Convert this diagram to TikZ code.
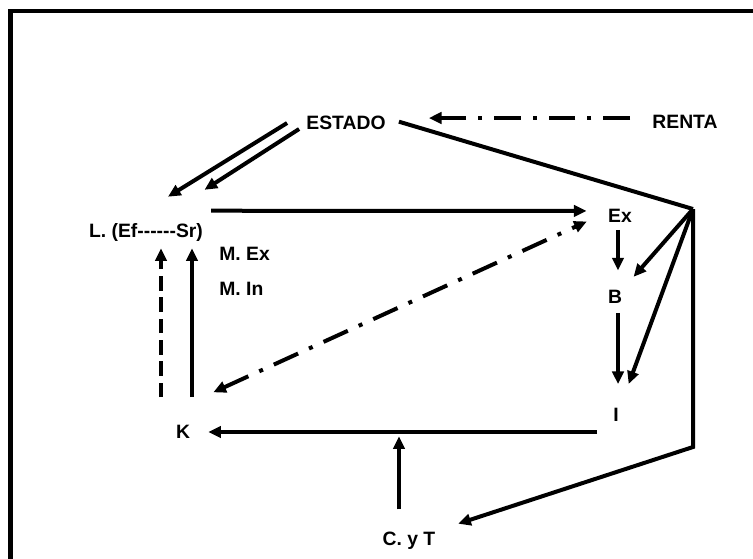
\documentclass[tikz,border=0pt]{standalone}
\usepackage{fontspec}
\setmainfont{Liberation Sans}
\usetikzlibrary{positioning,arrows.meta}

\begin{document}
\begin{tikzpicture}[
    x=0.75pt,y=-0.75pt,
    txt/.style={inner sep=1pt,font=\fontsize{14.5}{17}\selectfont\bfseries},
    thickline/.style={line width=3pt},
    arrow/.style={thickline,-{Triangle[length=9.5pt,width=8.5pt]}},
    dblarrow/.style={thickline,{Triangle[length=9.5pt,width=8.5pt]}-{Triangle[length=9.5pt,width=8.5pt]}},
    ddline/.style={dash pattern=on 20pt off 9pt on 3pt off 9pt},
    dashline/.style={dash pattern=on 11pt off 5pt},
]

% ===== Frame =====
\useasboundingbox (0,0) rectangle (753,558);
\draw[line width=3.5pt] (10.5,570) -- (10.5,11) -- (765,11);

% ===== Nodes =====
\node[txt] (estado) at (346,123) {ESTADO};
\node[txt] (renta) at (685,122) {RENTA};
\node[txt] (lnode) at (146,232) {L. (Ef{-}{-}{-}{-}{-}{-}Sr)};
\node[txt,anchor=west] (mex) at (217.7,253.5) {M. Ex};
\node[txt,below=26.25pt of mex.west,anchor=west] (min) {M. In};
\node[txt] (ex) at (620,215.5) {Ex};
\node[txt] (b) at (615,296.5) {B};
\node[txt] (i) at (616,415) {I};
\node[txt] (k) at (183,432) {K};
\node[txt] (cyt) at (409,541) {C. y T};

\coordinate (apex) at (693,209);
\coordinate (corner) at (693,447);

% ===== Estado and Renta =====
\draw[arrow,ddline] ([xshift=-15.5pt,yshift=3pt]renta.west) -- ([xshift=31.3pt,yshift=3.75pt]estado.east);
\draw[arrow] ([xshift=-13.3pt]estado.west) -- ([xshift=16.5pt,yshift=18.5pt]lnode.north);
\draw[arrow] ([xshift=-4.3pt,yshift=-4.5pt]estado.west) -- ([yshift=23.7pt]lnode.north east);
\draw[thickline] ([xshift=8.8pt,yshift=1pt]estado.east) -- (apex);

% ===== Right side =====
\draw[arrow,shorten >=11.4pt] (apex) -- (b.north east);
\draw[arrow,shorten >=18.2pt] (apex) -- (i.north east);
\draw[arrow,shorten >=16.8pt] (apex) -- (corner) -- (cyt.north east);
\draw[arrow] ([xshift=-1.5pt,yshift=-4.5pt]ex.south) -- ([xshift=2.25pt,yshift=13.3pt]b.north);
\draw[arrow] ([xshift=2.25pt,yshift=-6pt]b.south) -- ([xshift=1.5pt,yshift=17pt]i.north);

% ===== Loop =====
\draw[arrow,shorten >=15pt] ([xshift=5pt,yshift=8pt]lnode.north east) -- ([yshift=3.4pt]ex.west);
\draw[arrow,shorten <=11pt,shorten >=12.5pt] (k.east -| i.west) -- (k.east);
\draw[arrow] ([xshift=-7.5pt,yshift=16pt]cyt.north) -- ++(0,-73);
\draw[arrow] ([xshift=6.75pt,yshift=19.9pt]k.north) -- ([xshift=34.5pt,yshift=-4.2pt]lnode.south);
\draw[arrow,dashline] ([xshift=-16.5pt,yshift=19.9pt]k.north) -- ([xshift=11.25pt,yshift=-4.2pt]lnode.south);
\draw[dblarrow,ddline] ([xshift=16.3pt,yshift=23.6pt]k.north east) -- ([xshift=-14.8pt,yshift=1.7pt]ex.south west);

\end{tikzpicture}
\end{document}
